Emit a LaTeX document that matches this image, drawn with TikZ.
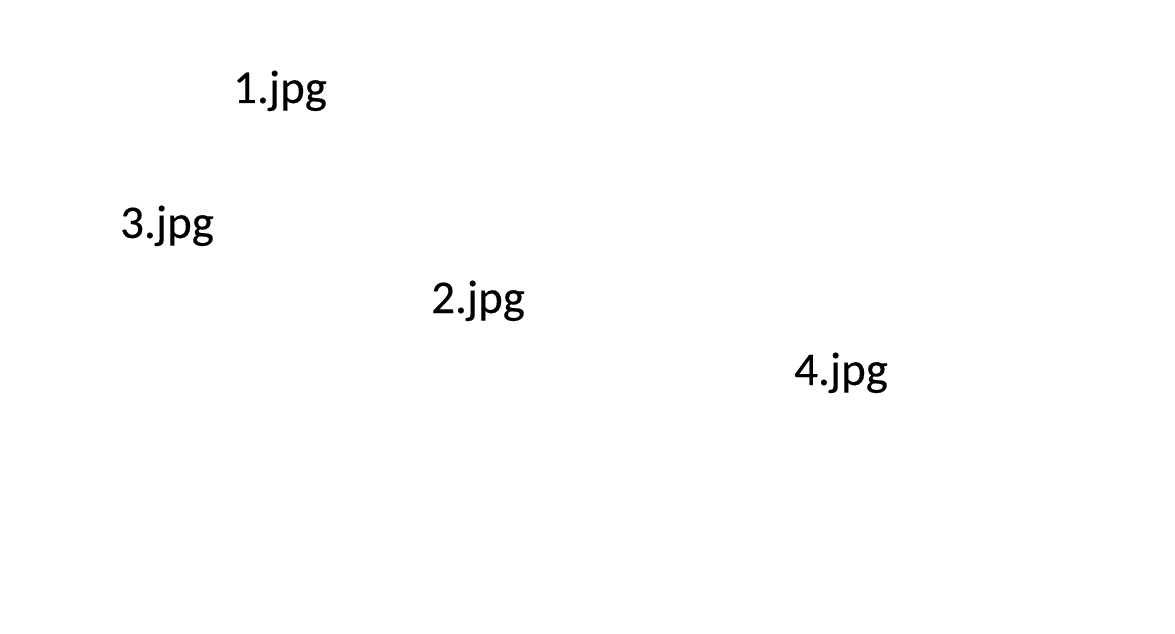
\documentclass[tikz,border=0pt]{standalone}
\usepackage{fontspec}
\setmainfont{Carlito}
\newfontface\lblfont{Carlito}[FakeBold=0.25]
\begin{document}
\begin{tikzpicture}[x=1pt,y=1pt,
  lbl/.style={anchor=base west,inner sep=0pt,font=\lblfont\fontsize{47}{50}\selectfont}]
\useasboundingbox[fill=white] (0,0) rectangle (1175,633);
\node[lbl] (one) at (233,530) {1.jpg};
\node[lbl] (three) at (120,395) {3.jpg};
\node[lbl] (two) at (431,320) {2.jpg};
\node[lbl] (four) at (794,248) {4.jpg};
\end{tikzpicture}
\end{document}
